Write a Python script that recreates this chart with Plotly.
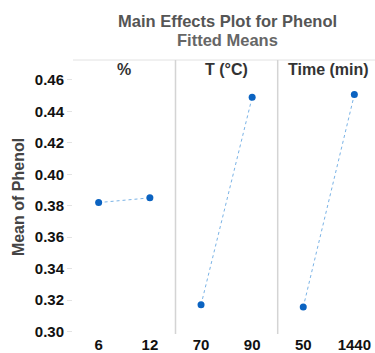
import plotly.graph_objects as go

# Data
factors = ["%", "T (°C)", "Time (min)"]
levels_pct = ["6", "12"]
means_pct = [0.382, 0.385]
levels_temp = ["70", "90"]
means_temp = [0.317, 0.449]
levels_time = ["50", "1440"]
means_time = [0.3155, 0.4507]
y_ticks = [0.30, 0.32, 0.34, 0.36, 0.38, 0.40, 0.42, 0.44, 0.46]

W, H = 375, 353
L, R, T, B = 73, 0, 60, 19
pw = W - L - R
ph = H - T - B
b1 = 102.5 / pw
b2 = 204.7 / pw

fig = go.Figure()
series = [(levels_pct, means_pct), (levels_temp, means_temp), (levels_time, means_time)]
marker_color = "#0b63c1"
line_color = "#7ab3e6"
for i, (lv, mv) in enumerate(series):
    xa = "x" if i == 0 else f"x{i+1}"
    fig.add_trace(go.Scatter(
        x=lv, y=mv, xaxis=xa, yaxis="y", mode="lines+markers",
        marker=dict(color=marker_color, size=7),
        line=dict(color=line_color, width=1, dash="dot"),
        showlegend=False, hoverinfo="skip"))

FAM = "Liberation Sans, Arial, sans-serif"
tickfont = dict(family=FAM, size=15, color="#111111", weight="bold")
common_x = dict(type="category", showgrid=False, zeroline=False, showline=False,
                ticks="", tickfont=tickfont, ticklabelstandoff=0, fixedrange=True,
                automargin=False)
fig.update_layout(
    width=W, height=H,
    margin=dict(l=L, r=R, t=T, b=B),
    paper_bgcolor="white", plot_bgcolor="white",
    xaxis=dict(domain=[0, b1], range=[-0.5, 1.5], **common_x),
    xaxis2=dict(domain=[b1, b2], range=[-0.5, 1.5], anchor="y", **common_x),
    xaxis3=dict(domain=[b2, 1], range=[-0.5, 1.404], anchor="y", **common_x),
    yaxis=dict(range=[0.2984, 0.4727], tickvals=y_ticks, tickformat=".2f",
               showgrid=False, zeroline=False, showline=False,
               ticks="outside", ticklen=5, tickcolor="#e3e3e3",
               tickfont=tickfont, automargin=False,
               title=dict(text="Mean of Phenol", standoff=6,
                          font=dict(family=FAM, size=16, color="#444444", weight="bold")),
               fixedrange=True),
    font=dict(family=FAM),
)

# Title
fig.add_annotation(text="<b>Main Effects Plot for Phenol</b>", xref="paper", yref="paper",
                   x=(227 - L) / pw, y=1 + (60 - 21) / ph, showarrow=False,
                   font=dict(size=16.5, color="#555555"), xanchor="center", yanchor="middle")
fig.add_annotation(text="<b>Fitted Means</b>", xref="paper", yref="paper",
                   x=(227 - L) / pw, y=1 + (60 - 40.5) / ph, showarrow=False,
                   font=dict(size=16.5, color="#666666"), xanchor="center", yanchor="middle")

# Panel titles
centers = [b1 / 2, (b1 + b2) / 2, b2 + (102.2 / pw) / 2]
for name, cx in zip(factors, centers):
    fig.add_annotation(text=f"<b>{name}</b>", xref="paper", yref="paper", x=cx,
                       y=1 - (69 - 60) / ph, showarrow=False,
                       font=dict(size=16, color="#333333"), xanchor="center", yanchor="middle")

# Panel frame lines
fig.add_shape(type="line", xref="paper", yref="paper", x0=0, x1=1, y0=1, y1=1,
              line=dict(color="#e2e2e2", width=1))
for bx in [b1, b2]:
    fig.add_shape(type="line", xref="paper", yref="paper", x0=bx, x1=bx, y0=0, y1=1,
                  line=dict(color="#d4d4d4", width=1.5))

fig.write_html("out.html")
